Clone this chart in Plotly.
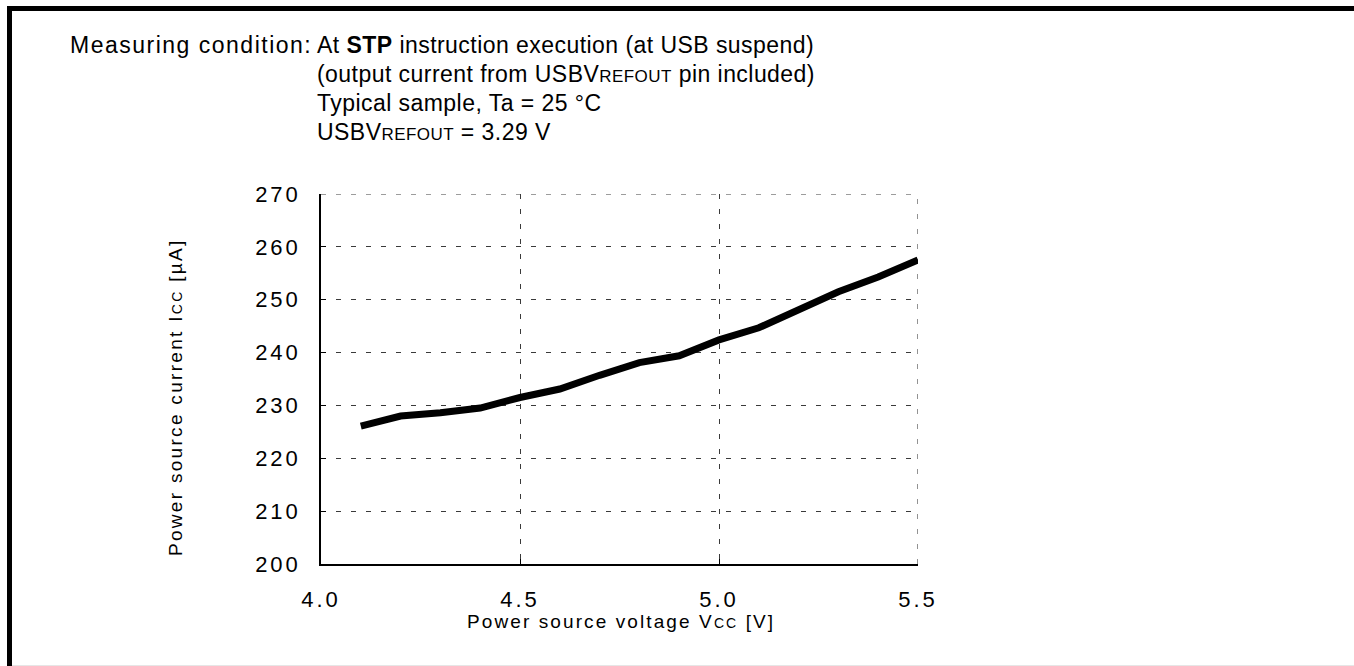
import plotly.graph_objects as go

# Supply current vs. supply voltage (typical sample)
voltage = [4.1, 4.2, 4.3, 4.4, 4.5, 4.6, 4.7, 4.8, 4.9, 5.0, 5.1, 5.2, 5.3, 5.4, 5.5]
current = [226.1, 228.0, 228.6, 229.5, 231.5, 233.1, 235.7, 238.1, 239.4, 242.4,
           244.7, 248.2, 251.5, 254.3, 257.5]

x_ticks = [4.0, 4.5, 5.0, 5.5]
x_tick_labels = ["4.0", "4.5", "5.0", "5.5"]
y_ticks = [200, 210, 220, 230, 240, 250, 260, 270]
y_tick_labels = ["200", "210", "220", "230", "240", "250", "260", "270"]

W, H = 1354, 666
FONT = "Liberation Sans, Arial, sans-serif"
GRID_COLOR = "#3a3a3a"
GRID_DASH = "5px,10px"


def spaced(text, px):
    return f'<span style="letter-spacing:{px}px">{text}</span>'


def sc(text, size):
    # small-cap lettering used in pin / symbol names
    return f'<span style="font-size:{size}px">{text}</span>'


def px_x(p):
    return p / W


def px_y(p):
    return 1 - p / H


fig = go.Figure()
fig.add_trace(go.Scatter(
    x=voltage, y=current, mode="lines",
    line=dict(color="black", width=7),
    showlegend=False, hoverinfo="skip",
))

grid = dict(showgrid=True, gridcolor=GRID_COLOR, gridwidth=1.1, griddash=GRID_DASH)

fig.update_layout(
    width=W, height=H,
    margin=dict(l=0, r=0, t=0, b=0),
    paper_bgcolor="white", plot_bgcolor="white",
    font=dict(family=FONT, color="black", size=22),
    xaxis=dict(
        domain=[px_x(321), px_x(918)], range=[x_ticks[0], x_ticks[-1]],
        tickvals=x_ticks, ticktext=[spaced(t, 3) for t in x_tick_labels],
        ticks="inside", ticklen=5, tickcolor="black", tickwidth=1,
        showline=True, linecolor="black", linewidth=1.5,
        zeroline=False, automargin=False, ticklabelstandoff=15,
        tickfont=dict(size=22), **grid,
    ),
    yaxis=dict(
        domain=[1 - 564 / H, 1 - 194 / H], range=[y_ticks[0], y_ticks[-1]],
        tickvals=y_ticks, ticktext=[spaced(t, 3) for t in y_tick_labels],
        ticks="inside", ticklen=5, tickcolor="black", tickwidth=1,
        showline=True, linecolor="black", linewidth=1.5,
        zeroline=False, automargin=False, ticklabelstandoff=14,
        tickfont=dict(size=22), **grid,
    ),
)

# Dashed gridlines along the top and right edges of the plot box
edge = dict(color=GRID_COLOR, width=1.1, dash=GRID_DASH)
fig.add_shape(type="line", xref="x", yref="y", layer="below",
              x0=x_ticks[0], x1=x_ticks[-1], y0=y_ticks[-1], y1=y_ticks[-1], line=edge)
fig.add_shape(type="line", xref="x", yref="y", layer="below",
              x0=x_ticks[-1], x1=x_ticks[-1], y0=y_ticks[0], y1=y_ticks[-1], line=edge)

# Frame lines around the sheet
fig.add_shape(type="rect", xref="paper", yref="paper",
              x0=px_x(7), x1=1.0, y0=px_y(11), y1=px_y(6),
              fillcolor="black", line_width=0, layer="above")
fig.add_shape(type="rect", xref="paper", yref="paper",
              x0=px_x(7), x1=px_x(12), y0=0.0, y1=px_y(6),
              fillcolor="black", line_width=0, layer="above")
fig.add_shape(type="line", xref="paper", yref="paper",
              x0=px_x(12), x1=1.0, y0=px_y(665.5), y1=px_y(665.5),
              line=dict(color="#e6e6e6", width=1))

# Measuring conditions
head_size = 23
fig.add_annotation(
    x=px_x(68), y=px_y(45), xref="paper", yref="paper",
    xanchor="left", yanchor="middle", showarrow=False,
    font=dict(size=head_size),
    text=spaced("Measuring condition:", 1.5),
)
lines = [
    "At <b>STP</b> instruction execution (at USB suspend)",
    "(output current from USBV" + sc("REFOUT", 17) + " pin included)",
    "Typical sample, Ta = 25 °C",
    "USBV" + sc("REFOUT", 17) + " = 3.29 V",
]
for i, t in enumerate(lines):
    fig.add_annotation(
        x=px_x(315), y=px_y(45 + 29 * i), xref="paper", yref="paper",
        xanchor="left", yanchor="middle", showarrow=False,
        font=dict(size=head_size),
        text=spaced(t, 0.45),
    )

# Axis titles
fig.add_annotation(
    x=px_x(621), y=px_y(621), xref="paper", yref="paper",
    xanchor="center", yanchor="middle", showarrow=False,
    font=dict(size=19),
    text=spaced("Power source voltage V" + sc("CC", 14) + " [V]", 2.1),
)
fig.add_annotation(
    x=px_x(175), y=px_y(397), xref="paper", yref="paper",
    xanchor="center", yanchor="middle", showarrow=False, textangle=-90,
    font=dict(size=19),
    text=spaced("Power source current I" + sc("CC", 14) + " [µA]", 2.3),
)

fig.write_html("out.html")
